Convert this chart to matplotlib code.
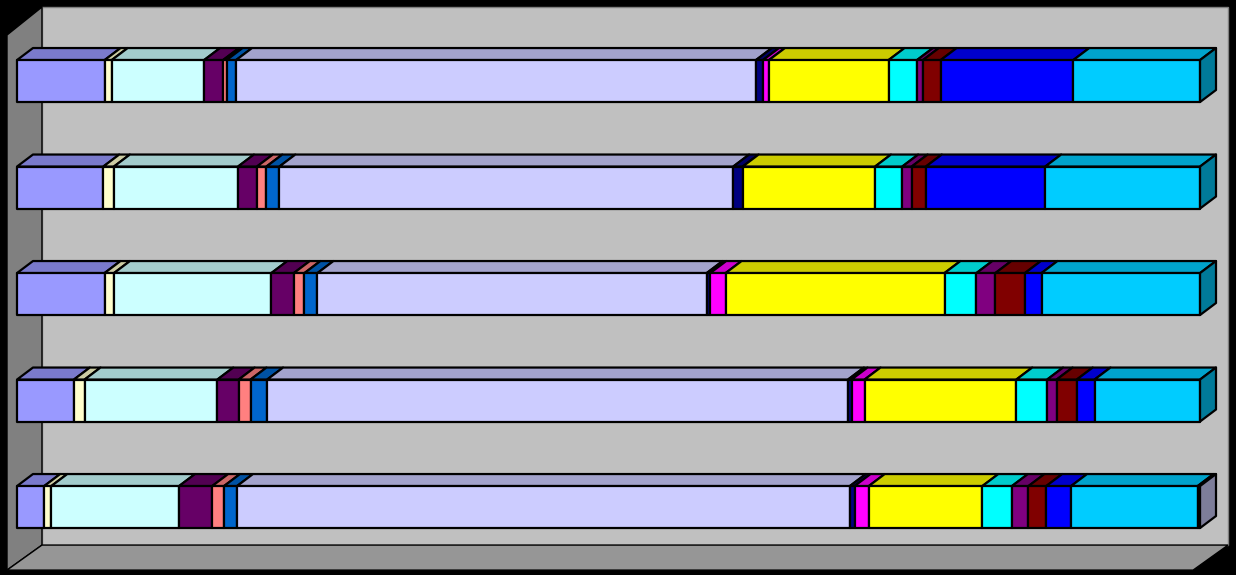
import numpy as np
import matplotlib
matplotlib.use("Agg")
import matplotlib.pyplot as plt
from matplotlib.patches import Polygon
from matplotlib.colors import to_rgb

# 100% stacked 3-D bars, five rows from top to bottom, sixteen series
colors = ["#9999FF", "#FFFFCC", "#CCFFFF", "#660066", "#FF8080", "#0066CC",
          "#CCCCFF", "#000080", "#FF00FF", "#FFFF00", "#00FFFF", "#800080",
          "#800000", "#0000FF", "#00CCFF", "#D0D0FF"]

row1 = [7.4, 0.6, 7.8, 1.6, 0.3, 0.8, 43.9, 0.6, 0.5, 10.1, 2.4, 0.5, 1.5, 11.2, 10.7, 0.0]
row2 = [7.3, 0.9, 10.5, 1.6, 0.8, 1.1, 38.4, 0.8, 0.0, 11.2, 2.3, 0.8, 1.2, 10.1, 13.1, 0.0]
row3 = [7.4, 0.8, 13.3, 1.9, 0.9, 1.1, 32.9, 0.3, 1.3, 18.5, 2.7, 1.6, 2.5, 1.4, 13.4, 0.0]
row4 = [4.8, 0.9, 11.2, 1.8, 1.0, 1.4, 49.0, 0.3, 1.1, 12.8, 2.6, 0.8, 1.7, 1.5, 8.9, 0.0]
row5 = [2.3, 0.6, 10.8, 2.8, 1.0, 1.1, 51.8, 0.4, 1.2, 9.6, 2.5, 1.4, 1.5, 2.1, 10.7, 0.2]
rows = [row1, row2, row3, row4, row5]

# geometry (data units: x in percent, y in row index)
bar_h = 0.394
dx, dy = 1.35, -0.113          # bar depth offset
edge_lw = 1.6


def shade(c, f):
    r, g, b = to_rgb(c)
    return (r * f, g * f, b * f)


fig = plt.figure(figsize=(12.36, 5.75), dpi=100, facecolor="black")
ax = fig.add_axes([0, 0, 1, 1])
ax.set_xlim(-1.437, 103.04)
ax.set_ylim(4.638, -0.761)
ax.axis("off")

# walls and floor
left_f, left_b = -0.845, 2.11
right_b = 102.37
top_b, bot_b = -0.695, 4.357
top_f, bot_f = -0.432, 4.592
right_f = right_b - (left_b - left_f)
ax.add_patch(Polygon([(left_b, top_b), (right_b, top_b), (right_b, bot_b), (left_b, bot_b)],
                     closed=True, facecolor="#C0C0C0", edgecolor="#808080", lw=1))
ax.add_patch(Polygon([(left_f, top_f), (left_b, top_b), (left_b, bot_b), (left_f, bot_f)],
                     closed=True, facecolor="#808080", edgecolor="black", lw=1))
ax.add_patch(Polygon([(left_f, bot_f), (left_b, bot_b), (right_b, bot_b), (right_f, bot_f)],
                     closed=True, facecolor="#969696", edgecolor="black", lw=1))

for i, vals in enumerate(rows):
    v = np.array(vals, dtype=float)
    v = v / v.sum() * 100
    lefts = np.concatenate([[0], np.cumsum(v)[:-1]])
    yt, yb = i - bar_h / 2, i + bar_h / 2
    last = None
    for x0, w, c in zip(lefts, v, colors):
        if w <= 0:
            continue
        x1 = x0 + w
        ax.add_patch(Polygon([(x0, yt), (x1, yt), (x1 + dx, yt + dy), (x0 + dx, yt + dy)],
                             closed=True, facecolor=shade(c, 0.8), edgecolor="black",
                             lw=edge_lw, joinstyle="round"))
        last = (x1, c)
    for x0, w, c in zip(lefts, v, colors):
        if w <= 0:
            continue
        x1 = x0 + w
        ax.add_patch(Polygon([(x0, yt), (x1, yt), (x1, yb), (x0, yb)],
                             closed=True, facecolor=c, edgecolor="black",
                             lw=edge_lw, joinstyle="round"))
    x1, c = last
    ax.add_patch(Polygon([(x1, yt), (x1 + dx, yt + dy), (x1 + dx, yb + dy), (x1, yb)],
                         closed=True, facecolor=shade(c, 0.6), edgecolor="black",
                         lw=edge_lw, joinstyle="round"))

fig.savefig("out.png", dpi=100, facecolor="black")
